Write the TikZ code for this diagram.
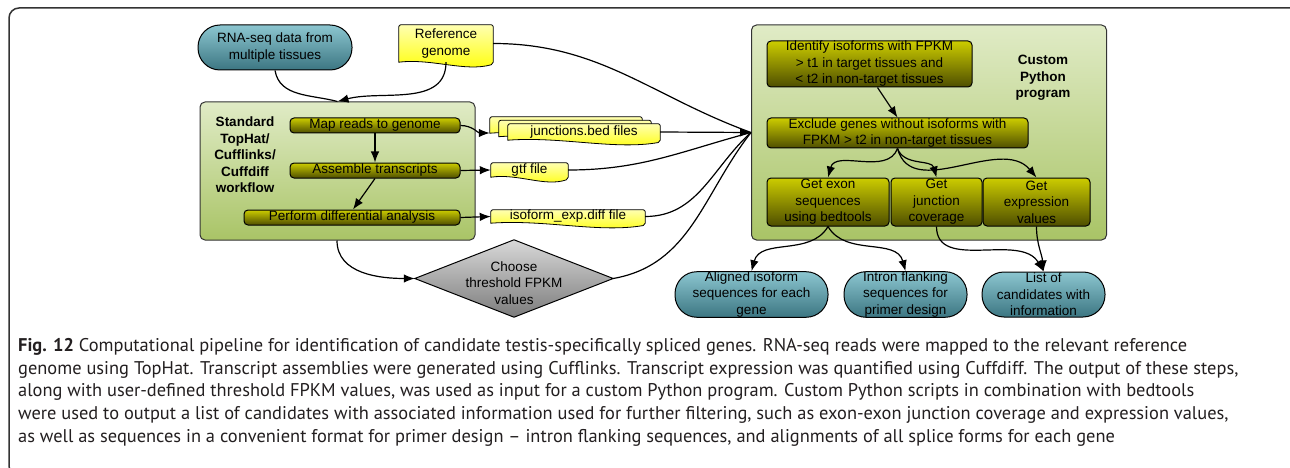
\documentclass[tikz,border=0pt]{standalone}
\usepackage{fontspec}
\setmainfont{Liberation Sans}
\newfontfamily\capfont[Ligatures=TeX]{PT Sans}
\usetikzlibrary{arrows.meta,calc}
\pgfdeclarelayer{bottom}
\pgfdeclarelayer{bg}
\pgfsetlayers{bottom,bg,main}

\definecolor{tealT}{HTML}{8CC6D0}
\definecolor{tealB}{HTML}{3C7682}
\definecolor{oliveT}{HTML}{CCCC00}
\definecolor{oliveB}{HTML}{4E4E00}
\definecolor{greenT}{HTML}{E0EBC6}
\definecolor{greenB}{HTML}{A9C466}
\definecolor{yelT}{HTML}{FFFFB0}
\definecolor{yelB}{HTML}{FFFF00}
\definecolor{grayT}{HTML}{D8D8D8}
\definecolor{grayB}{HTML}{7C7C7C}
\definecolor{framec}{HTML}{333333}
\definecolor{captext}{HTML}{231F20}

\tikzset{
 every node/.style={font=\fontsize{13.5}{16.5}\selectfont, inner sep=0pt, align=center},
 term/.style={rounded corners=22pt, top color=tealT, bottom color=tealB, draw=black, line width=1pt, minimum height=45pt},
 panel/.style={rounded corners=5pt, top color=greenT, bottom color=greenB, draw=black!80, line width=1pt},
 stepbox/.style={rounded corners=4pt, top color=oliveT, bottom color=oliveB, draw=black, line width=1pt},
 docbox/.style={top color=yelT, bottom color=yelB, draw=black, line width=0.8pt},
 ptitle/.style={font=\fontsize{13.5}{16.5}\selectfont\bfseries},
 arr/.style={-{Latex[length=11pt,width=8.5pt]}, line width=1.2pt},
 link/.style={line width=1.2pt},
}

\newcommand\docbg[2][0,0]{%
 \path[docbox] let \p1=($(#2.south west)+(#1)$), \p2=($(#2.north east)+(#1)$) in
  (\x1,\y1) [rounded corners=2pt] -- (\x1,\y2) -- (\x2,\y2) -- (\x2,{\y1-2pt}) [sharp corners]
  .. controls ({\x2-0.3*(\x2-\x1)},{\y1-10pt}) and ({\x1+0.35*(\x2-\x1)},{\y1+4pt}) .. (\x1,\y1) -- cycle;}

\begin{document}
\begin{tikzpicture}[x=1pt,y=-1pt]
\useasboundingbox (0,0) rectangle (1290,468);
\begin{pgfonlayer}{bottom}
\fill[white] (0,0) rectangle (1290,468);
\end{pgfonlayer}
\draw[framec, line width=1.5pt, rounded corners=10pt] (1290,8) -- (9,8) -- (9,476) -- (30,476);

% left panel
\node[panel, minimum width=275pt, minimum height=138pt] (panelL) at (337.5,171) {};
\node[ptitle] (titleL) at (245,155) {Standard\\TopHat/\\Cufflinks/\\Cuffdiff\\workflow};
\node[stepbox, minimum width=170pt, minimum height=15pt] (map) at (375,125.5) {Map reads to genome};
\node[stepbox, minimum width=170pt, minimum height=15pt] (asm) at (375,170.5) {Assemble transcripts};
\node[stepbox, minimum width=216pt, minimum height=15pt] (perf) at (352,217.5) {Perform differential analysis};

% right panel
\node[panel, minimum width=355pt, minimum height=215pt] (panelR) at (929,132.5) {};
\node[ptitle] (titleR) at (1043,78) {Custom\\Python\\program};
\node[stepbox, minimum width=205pt, minimum height=46pt] (ident) at (869.5,64) {Identify isoforms with FPKM\\> t1 in target tissues and\\< t2 in non-target tissues};
\node[stepbox, minimum width=261pt, minimum height=30pt] (excl) at (897.5,133) {Exclude genes without isoforms with\\FPKM > t2 in non-target tissues};
\node[stepbox, minimum width=122pt, minimum height=48pt] (exon) at (828,202) {Get exon\\sequences\\using bedtools};
\node[stepbox, minimum width=91pt, minimum height=48pt] (jcov) at (936.5,202) {Get\\junction\\coverage};
\node[stepbox, minimum width=107pt, minimum height=48pt] (expr) at (1036.5,202) {Get\\expression\\values};

% terminals
\node[term, minimum width=154pt] (rna) at (275,47.5) {RNA-seq data from\\multiple tissues};
\node[term, minimum width=153pt] (aligned) at (751.5,294.5) {Aligned isoform\\sequences for each\\gene};
\node[term, minimum width=123pt] (intron) at (905.5,294.5) {Intron flanking\\sequences for\\primer design};
\node[term, minimum width=123pt] (list) at (1043.5,294.5) {List of\\candidates with\\information};

% documents
\node[minimum width=94pt, minimum height=37pt] (ref) at (446,43.5) {Reference\\genome};
\node[minimum width=152pt, minimum height=16pt] (junc) at (584,132) {junctions.bed files};
\node[minimum width=77pt, minimum height=14pt] (gtf) at (529.5,170) {gtf file};
\node[minimum width=154pt, minimum height=13pt] (iso) at (568,216.5) {isoform\_exp.diff file};
\coordinate (jback) at ($(junc.west)+(-18,1)$);
\begin{pgfonlayer}{bg}
 \docbg{ref}
 \docbg[-18,-7]{junc}
 \docbg[-9,-3.5]{junc}
 \docbg{junc}
 \docbg{gtf}
 \docbg{iso}
\end{pgfonlayer}

% diamond
\node[minimum width=198pt, minimum height=77pt] (dia) at (514,278.5) {};
\shade[top color=grayT, bottom color=grayB, draw=black, line width=1pt] (dia.north) -- (dia.east) -- (dia.south) -- (dia.west) -- cycle;
\node (diatext) at (514,283) {Choose\\threshold FPKM\\values};

% connectors into left panel
\coordinate (pinL) at (panelL.north);
\draw[link] (rna.south) to[out=-80,in=165] (pinL);
\draw[arr] (ref.south) to[out=-90,in=15] (pinL);

% left panel internal
\draw[arr] (map.south) -- (asm.north);
\draw[arr] (asm.south) -- ([xshift=1pt]perf.north);
\draw[arr] (map.east) to[out=0,in=180] (jback);
\draw[arr] (asm.east) -- (gtf.west);
\draw[arr] (perf.east) -- (iso.west);
\draw[arr] ([xshift=-0.5pt]panelL.south) to[out=-90,in=180] (dia.west);

% into right panel
\coordinate (pinR) at (panelR.west);
\draw[link] (ref.east) to[out=0,in=160] (pinR);
\draw[link] (gtf.east) to[out=0,in=195] (pinR);
\draw[link] (iso.east) to[out=0,in=222] (pinR);
\draw[link] (dia.east) to[out=10,in=232] (pinR);
\draw[arr] (junc.east) -- (pinR);

% right panel internal
\draw[arr] ([xshift=8pt]ident.south) -- (excl.north);
\draw[arr] (excl.south) to[out=-110,in=75] (exon.north);
\draw[arr] (excl.south) to[out=-70,in=105] (jcov.north);
\draw[arr] (excl.south) to[out=-75,in=130] (expr.north);

% outputs
\draw[arr] (exon.south) to[out=-120,in=75] (aligned.north);
\draw[arr] (exon.south) to[out=-60,in=105] (intron.north);
\draw[arr] (jcov.south) to[out=-90,in=120] (list.north);
\draw[arr] (expr.south) to[out=-90,in=95] (list.north);

% caption
\node[anchor=north west, align=left, text=captext, font=\capfont\fontsize{18.4}{22.8}\selectfont] (caption) at (18,338)
{\textbf{Fig. 12} Computational pipeline for identification of candidate testis-specifically spliced genes. RNA-seq reads were mapped to the relevant reference\\
genome using TopHat. Transcript assemblies were generated using Cufflinks. Transcript expression was quantified using Cuffdiff. The output of these steps,\\
along with user-defined threshold FPKM values, was used as input for a custom Python program. Custom Python scripts in combination with bedtools\\
were used to output a list of candidates with associated information used for further filtering, such as exon-exon junction coverage and expression values,\\
as well as sequences in a convenient format for primer design – intron flanking sequences, and alignments of all splice forms for each gene};
\end{tikzpicture}
\end{document}
